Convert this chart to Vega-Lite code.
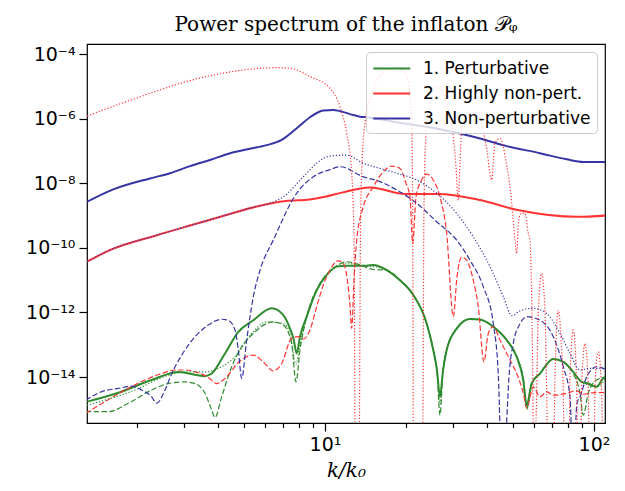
{
"$schema":"https://vega.github.io/schema/vega-lite/v6.json",
"width":518,"height":379,
"autosize":{"type":"none"},
"padding":{"left":87,"top":44,"right":20,"bottom":68},
"title":{"text":"Power spectrum of the inflaton 𝒫ᵩ","font":"DejaVu Serif","fontSize":20,"fontWeight":"normal","color":"black","anchor":"middle","baseline":"alphabetic","offset":17,"dy":24},
"config":{
 "view":{"stroke":"black","strokeWidth":1.2},
 "axis":{"domain":false,"grid":false,"tickColor":"black","tickWidth":1.2,"labelColor":"black","labelFont":"DejaVu Sans","labelFontSize":19,"titleColor":"black","labelFlush":false,"labelOverlap":false},
 "legend":{"orient":"top-right","offset":8,"padding":6,"fillColor":"rgba(255,255,255,0.8)","strokeColor":"#cccccc","cornerRadius":4,"labelFont":"DejaVu Sans","labelFontSize":17,"labelLimit":400,"labelColor":"black","symbolType":"M-1,0H3","symbolSize":342,"symbolStrokeWidth":2,"rowPadding":6,"labelOffset":30}
},
"data":{"values":[
{"m":1,"s":"solid","k":1.306,"p":1.74e-15},{"m":1,"s":"solid","k":1.682,"p":3.16e-15},{"m":1,"s":"solid","k":2.268,"p":8.13e-15},{"m":1,"s":"solid","k":2.849,"p":1.45e-14},{"m":1,"s":"solid","k":3.58,"p":1.07e-14},{"m":1,"s":"solid","k":3.792,"p":1.29e-14},{"m":1,"s":"solid","k":4.249,"p":5.37e-14},{"m":1,"s":"solid","k":4.762,"p":2.51e-13},{"m":1,"s":"solid","k":5.415,"p":5.75e-13},{"m":1,"s":"solid","k":6.338,"p":1.35e-12},{"m":1,"s":"solid","k":6.998,"p":8.32e-13},{"m":1,"s":"solid","k":7.411,"p":3.24e-13},{"m":1,"s":"solid","k":7.636,"p":1.58e-13},{"m":1,"s":"solid","k":7.849,"p":5.37e-14},{"m":1,"s":"solid","k":8.074,"p":1.78e-13},{"m":1,"s":"solid","k":8.551,"p":7.41e-13},{"m":1,"s":"solid","k":9.314,"p":4.9e-12},{"m":1,"s":"solid","k":10.15,"p":1.45e-11},{"m":1,"s":"solid","k":11.05,"p":2.63e-11},{"m":1,"s":"solid","k":12.04,"p":2.82e-11},{"m":1,"s":"solid","k":14.29,"p":2.82e-11},{"m":1,"s":"solid","k":15.12,"p":2.95e-11},{"m":1,"s":"solid","k":16.96,"p":2.04e-11},{"m":1,"s":"solid","k":19.0,"p":1.0e-11},{"m":1,"s":"solid","k":21.3,"p":3.47e-12},{"m":1,"s":"solid","k":23.88,"p":4.57e-13},{"m":1,"s":"solid","k":25.27,"p":6.92e-14},{"m":1,"s":"solid","k":26.09,"p":1.58e-14},{"m":1,"s":"solid","k":26.76,"p":2.45e-15},{"m":1,"s":"solid","k":27.46,"p":1.58e-14},{"m":1,"s":"solid","k":28.34,"p":6.92e-14},{"m":1,"s":"solid","k":30.88,"p":3.16e-13},{"m":1,"s":"solid","k":34.59,"p":6.31e-13},{"m":1,"s":"solid","k":37.69,"p":6.03e-13},{"m":1,"s":"solid","k":42.24,"p":3.63e-13},{"m":1,"s":"solid","k":47.37,"p":1.41e-13},{"m":1,"s":"solid","k":51.6,"p":4.27e-14},{"m":1,"s":"solid","k":54.61,"p":8.13e-15},{"m":1,"s":"solid","k":56.21,"p":1.35e-15},{"m":1,"s":"solid","k":58.67,"p":6.31e-15},{"m":1,"s":"solid","k":63.0,"p":1.29e-14},{"m":1,"s":"solid","k":70.6,"p":3.63e-14},{"m":1,"s":"solid","k":76.91,"p":2.95e-14},{"m":1,"s":"solid","k":83.75,"p":1.45e-14},{"m":1,"s":"solid","k":90.02,"p":7.08e-15},{"m":1,"s":"solid","k":95.24,"p":6.31e-15},{"m":1,"s":"solid","k":102.3,"p":5.01e-15},{"m":1,"s":"solid","k":108.3,"p":9.12e-15},{"m":1,"s":"solid","k":111.5,"p":9.77e-15},
{"m":1,"s":"dashed","k":1.29,"p":8.51e-16},{"m":1,"s":"dashed","k":1.565,"p":8.51e-16},{"m":1,"s":"dashed","k":1.857,"p":1.55e-15},{"m":1,"s":"dashed","k":2.268,"p":3.98e-15},{"m":1,"s":"dashed","k":2.616,"p":6.31e-15},{"m":1,"s":"dashed","k":3.017,"p":7.08e-15},{"m":1,"s":"dashed","k":3.287,"p":6.31e-15},{"m":1,"s":"dashed","k":3.58,"p":3.16e-15},{"m":1,"s":"dashed","k":3.792,"p":9.55e-16},{"m":1,"s":"dashed","k":3.901,"p":5.62e-16},{"m":1,"s":"dashed","k":4.13,"p":2.45e-15},{"m":1,"s":"dashed","k":4.501,"p":2.09e-14},{"m":1,"s":"dashed","k":4.902,"p":8.71e-14},{"m":1,"s":"dashed","k":5.415,"p":2.24e-13},{"m":1,"s":"dashed","k":6.425,"p":5.13e-13},{"m":1,"s":"dashed","k":6.998,"p":4.07e-13},{"m":1,"s":"dashed","k":7.519,"p":1.1e-13},{"m":1,"s":"dashed","k":7.802,"p":7.08e-15},{"m":1,"s":"dashed","k":8.074,"p":6.92e-14},{"m":1,"s":"dashed","k":8.551,"p":7.41e-13},{"m":1,"s":"dashed","k":9.581,"p":7.94e-12},{"m":1,"s":"dashed","k":10.74,"p":2.34e-11},{"m":1,"s":"dashed","k":12.04,"p":3.72e-11},{"m":1,"s":"dashed","k":13.49,"p":2.95e-11},{"m":1,"s":"dashed","k":15.12,"p":2.14e-11},{"m":1,"s":"dashed","k":16.96,"p":2.04e-11},{"m":1,"s":"dashed","k":19.0,"p":1.0e-11},{"m":1,"s":"dashed","k":21.3,"p":3.47e-12},{"m":1,"s":"dashed","k":23.88,"p":4.57e-13},{"m":1,"s":"dashed","k":25.27,"p":6.92e-14},{"m":1,"s":"dashed","k":26.09,"p":1.58e-14},{"m":1,"s":"dashed","k":26.76,"p":6.61e-16},{"m":1,"s":"dashed","k":27.46,"p":1.58e-14},{"m":1,"s":"dashed","k":28.34,"p":6.92e-14},{"m":1,"s":"dashed","k":30.88,"p":3.16e-13},{"m":1,"s":"dashed","k":34.59,"p":6.31e-13},{"m":1,"s":"dashed","k":37.69,"p":6.03e-13},{"m":1,"s":"dashed","k":42.24,"p":3.63e-13},{"m":1,"s":"dashed","k":47.37,"p":1.41e-13},{"m":1,"s":"dashed","k":51.6,"p":4.27e-14},{"m":1,"s":"dashed","k":54.61,"p":8.13e-15},{"m":1,"s":"dashed","k":56.21,"p":1.0e-15},{"m":1,"s":"dashed","k":58.67,"p":6.31e-15},{"m":1,"s":"dashed","k":63.0,"p":1.29e-14},{"m":1,"s":"dashed","k":70.6,"p":3.63e-14},{"m":1,"s":"dashed","k":76.91,"p":2.95e-14},{"m":1,"s":"dashed","k":83.75,"p":1.29e-14},{"m":1,"s":"dashed","k":88.72,"p":3.16e-15},{"m":1,"s":"dashed","k":91.25,"p":6.61e-16},{"m":1,"s":"dashed","k":95.24,"p":3.16e-15},{"m":1,"s":"dashed","k":102.3,"p":8.13e-15},{"m":1,"s":"dashed","k":111.5,"p":1.02e-14},
{"m":1,"s":"dotted","k":1.304,"p":1.35e-15},{"m":1,"s":"dotted","k":1.967,"p":3.98e-15},{"m":1,"s":"dotted","k":2.616,"p":1.15e-14},{"m":1,"s":"dotted","k":3.017,"p":1.45e-14},{"m":1,"s":"dotted","k":3.58,"p":1.45e-14},{"m":1,"s":"dotted","k":4.012,"p":1.86e-14},{"m":1,"s":"dotted","k":4.63,"p":4.27e-14},{"m":1,"s":"dotted","k":5.34,"p":2.24e-13},{"m":1,"s":"dotted","k":6.072,"p":5.13e-13},{"m":1,"s":"dotted","k":6.998,"p":4.57e-13},{"m":1,"s":"dotted","k":7.411,"p":2.24e-13},{"m":1,"s":"dotted","k":7.802,"p":2.51e-14},{"m":1,"s":"dotted","k":8.074,"p":1.0e-13},{"m":1,"s":"dotted","k":8.551,"p":7.41e-13},{"m":1,"s":"dotted","k":9.581,"p":7.08e-12},{"m":1,"s":"dotted","k":10.74,"p":2.24e-11},{"m":1,"s":"dotted","k":12.04,"p":3.39e-11},{"m":1,"s":"dotted","k":13.49,"p":2.82e-11},{"m":1,"s":"dotted","k":15.12,"p":2.63e-11},{"m":1,"s":"dotted","k":16.96,"p":2.04e-11},{"m":1,"s":"dotted","k":19.0,"p":1.0e-11},{"m":1,"s":"dotted","k":21.3,"p":3.47e-12},{"m":1,"s":"dotted","k":23.88,"p":4.57e-13},{"m":1,"s":"dotted","k":25.27,"p":6.92e-14},{"m":1,"s":"dotted","k":26.09,"p":1.58e-14},{"m":1,"s":"dotted","k":26.76,"p":1.5e-15},{"m":1,"s":"dotted","k":27.46,"p":1.58e-14},{"m":1,"s":"dotted","k":28.34,"p":6.92e-14},{"m":1,"s":"dotted","k":30.88,"p":3.16e-13},{"m":1,"s":"dotted","k":34.59,"p":6.31e-13},{"m":1,"s":"dotted","k":37.69,"p":6.03e-13},{"m":1,"s":"dotted","k":42.24,"p":3.63e-13},{"m":1,"s":"dotted","k":47.37,"p":1.41e-13},{"m":1,"s":"dotted","k":51.6,"p":4.27e-14},{"m":1,"s":"dotted","k":54.61,"p":8.13e-15},{"m":1,"s":"dotted","k":56.21,"p":1.2e-15},{"m":1,"s":"dotted","k":58.67,"p":6.31e-15},{"m":1,"s":"dotted","k":63.0,"p":1.29e-14},{"m":1,"s":"dotted","k":70.6,"p":3.63e-14},{"m":1,"s":"dotted","k":76.91,"p":2.95e-14},{"m":1,"s":"dotted","k":83.75,"p":1.45e-14},{"m":1,"s":"dotted","k":90.02,"p":7.08e-15},{"m":1,"s":"dotted","k":102.3,"p":5.01e-15},{"m":1,"s":"dotted","k":111.5,"p":9.77e-15},
{"m":2,"s":"solid","k":1.304,"p":3.72e-11},{"m":2,"s":"solid","k":1.585,"p":8.51e-11},{"m":2,"s":"solid","k":2.39,"p":2.51e-10},{"m":2,"s":"solid","k":3.366,"p":5.75e-10},{"m":2,"s":"solid","k":4.428,"p":1.12e-9},{"m":2,"s":"solid","k":5.627,"p":1.95e-9},{"m":2,"s":"solid","k":7.149,"p":2.82e-9},{"m":2,"s":"solid","k":8.781,"p":3.16e-9},{"m":2,"s":"solid","k":10.0,"p":3.8e-9},{"m":2,"s":"solid","k":11.55,"p":5.13e-9},{"m":2,"s":"solid","k":14.67,"p":7.41e-9},{"m":2,"s":"solid","k":19.97,"p":4.68e-9},{"m":2,"s":"solid","k":26.26,"p":4.68e-9},{"m":2,"s":"solid","k":37.69,"p":3.02e-9},{"m":2,"s":"solid","k":52.1,"p":1.48e-9},{"m":2,"s":"solid","k":87.06,"p":9.12e-10},{"m":2,"s":"solid","k":110.8,"p":1.0e-9},
{"m":2,"s":"dashed","k":1.29,"p":7.59e-16},{"m":2,"s":"dashed","k":1.521,"p":1.74e-15},{"m":2,"s":"dashed","k":1.805,"p":3.98e-15},{"m":2,"s":"dashed","k":2.142,"p":8.13e-15},{"m":2,"s":"dashed","k":2.472,"p":1.29e-14},{"m":2,"s":"dashed","k":2.77,"p":1.66e-14},{"m":2,"s":"dashed","k":3.017,"p":1.66e-14},{"m":2,"s":"dashed","k":3.381,"p":1.35e-14},{"m":2,"s":"dashed","k":3.683,"p":9.77e-15},{"m":2,"s":"dashed","k":3.958,"p":6.31e-15},{"m":2,"s":"dashed","k":4.249,"p":9.12e-15},{"m":2,"s":"dashed","k":4.831,"p":3.16e-14},{"m":2,"s":"dashed","k":5.415,"p":4.79e-14},{"m":2,"s":"dashed","k":5.897,"p":2.95e-14},{"m":2,"s":"dashed","k":6.425,"p":1.55e-14},{"m":2,"s":"dashed","k":6.902,"p":2.63e-14},{"m":2,"s":"dashed","k":7.519,"p":1.58e-13},{"m":2,"s":"dashed","k":7.957,"p":1.78e-13},{"m":2,"s":"dashed","k":8.305,"p":1.51e-13},{"m":2,"s":"dashed","k":8.796,"p":2.88e-13},{"m":2,"s":"dashed","k":9.314,"p":1.51e-12},{"m":2,"s":"dashed","k":9.856,"p":7.08e-12},{"m":2,"s":"dashed","k":10.43,"p":2.04e-11},{"m":2,"s":"dashed","k":11.2,"p":3.98e-11},{"m":2,"s":"dashed","k":11.7,"p":3.31e-11},{"m":2,"s":"dashed","k":12.04,"p":1.41e-11},{"m":2,"s":"dashed","k":12.39,"p":1.58e-12},{"m":2,"s":"dashed","k":12.57,"p":3.24e-13},{"m":2,"s":"dashed","k":12.82,"p":1.0e-11},{"m":2,"s":"dashed","k":13.12,"p":1.74e-10},{"m":2,"s":"dashed","k":13.88,"p":1.86e-9},{"m":2,"s":"dashed","k":15.12,"p":7.76e-9},{"m":2,"s":"dashed","k":16.47,"p":2.29e-8},{"m":2,"s":"dashed","k":17.7,"p":3.39e-8},{"m":2,"s":"dashed","k":19.0,"p":2.88e-8},{"m":2,"s":"dashed","k":20.0,"p":1.0e-8},{"m":2,"s":"dashed","k":20.7,"p":3.8e-9},{"m":2,"s":"dashed","k":21.19,"p":1.38e-10},{"m":2,"s":"dashed","k":21.8,"p":3.8e-9},{"m":2,"s":"dashed","k":22.88,"p":1.26e-8},{"m":2,"s":"dashed","k":23.88,"p":1.91e-8},{"m":2,"s":"dashed","k":25.27,"p":1.26e-8},{"m":2,"s":"dashed","k":26.76,"p":3.8e-9},{"m":2,"s":"dashed","k":28.34,"p":2.82e-10},{"m":2,"s":"dashed","k":29.99,"p":7.41e-13},{"m":2,"s":"dashed","k":30.96,"p":1.26e-11},{"m":2,"s":"dashed","k":32.23,"p":5.25e-11},{"m":2,"s":"dashed","k":33.64,"p":4.17e-11},{"m":2,"s":"dashed","k":35.59,"p":1.0e-11},{"m":2,"s":"dashed","k":37.15,"p":1.51e-12},{"m":2,"s":"dashed","k":39.0,"p":2.95e-14},{"m":2,"s":"dashed","k":40.47,"p":2.24e-13},{"m":2,"s":"dashed","k":42.24,"p":3.63e-13},{"m":2,"s":"dashed","k":44.72,"p":1.41e-13},{"m":2,"s":"dashed","k":48.73,"p":3.39e-14},{"m":2,"s":"dashed","k":51.6,"p":1.29e-14},{"m":2,"s":"dashed","k":54.61,"p":3.16e-15},{"m":2,"s":"dashed","k":56.21,"p":1.12e-15},{"m":2,"s":"dashed","k":59.48,"p":5.01e-15},{"m":2,"s":"dashed","k":63.0,"p":2.45e-15},{"m":2,"s":"dashed","k":66.72,"p":3.55e-15},{"m":2,"s":"dashed","k":70.6,"p":2.75e-15},{"m":2,"s":"dashed","k":79.13,"p":3.16e-15},{"m":2,"s":"dashed","k":86.0,"p":3.8e-15},{"m":2,"s":"dashed","k":91.25,"p":2.95e-15},{"m":2,"s":"dashed","k":100.0,"p":3.3e-15},{"m":2,"s":"dashed","k":108.3,"p":3.31e-15},{"m":2,"s":"dashed","k":111.5,"p":3.16e-15},
{"m":2,"s":"dotted","k":1.306,"p":1.2e-6},{"m":2,"s":"dotted","k":1.682,"p":2.63e-6},{"m":2,"s":"dotted","k":2.235,"p":6.03e-6},{"m":2,"s":"dotted","k":2.974,"p":1.32e-5},{"m":2,"s":"dotted","k":3.958,"p":2.34e-5},{"m":2,"s":"dotted","k":5.263,"p":3.39e-5},{"m":2,"s":"dotted","k":6.614,"p":3.8e-5},{"m":2,"s":"dotted","k":7.411,"p":3.63e-5},{"m":2,"s":"dotted","k":8.796,"p":2.0e-5},{"m":2,"s":"dotted","k":10.43,"p":8.71e-6},{"m":2,"s":"dotted","k":11.37,"p":2.34e-6},{"m":2,"s":"dotted","k":12.04,"p":3.47e-7},{"m":2,"s":"dotted","k":12.57,"p":2.04e-8},{"m":2,"s":"dotted","k":12.82,"p":1.74e-10},{"m":2,"s":"dotted","k":12.98,"p":1e-17},{"m":2,"s":"dotted","k":13.38,"p":1e-17},{"m":2,"s":"dotted","k":13.55,"p":3.16e-10},{"m":2,"s":"dotted","k":13.69,"p":2.04e-8},{"m":2,"s":"dotted","k":14.08,"p":7.08e-7},{"m":2,"s":"dotted","k":15.12,"p":7.76e-6},{"m":2,"s":"dotted","k":16.47,"p":2.82e-5},{"m":2,"s":"dotted","k":18.48,"p":3.63e-5},{"m":2,"s":"dotted","k":20.12,"p":2.0e-5},{"m":2,"s":"dotted","k":21.01,"p":7.08e-7},{"m":2,"s":"dotted","k":21.19,"p":1e-9},{"m":2,"s":"dotted","k":21.33,"p":1e-17},{"m":2,"s":"dotted","k":23.04,"p":1e-17},{"m":2,"s":"dotted","k":23.34,"p":1.86e-9},{"m":2,"s":"dotted","k":23.74,"p":3.16e-7},{"m":2,"s":"dotted","k":24.57,"p":3.16e-6},{"m":2,"s":"dotted","k":25.86,"p":1.0e-5},{"m":2,"s":"dotted","k":27.46,"p":6.31e-6},{"m":2,"s":"dotted","k":29.15,"p":1.0e-6},{"m":2,"s":"dotted","k":29.99,"p":2.69e-7},{"m":2,"s":"dotted","k":30.69,"p":3.16e-8},{"m":2,"s":"dotted","k":31.3,"p":3.02e-9},{"m":2,"s":"dotted","k":31.76,"p":3.98e-8},{"m":2,"s":"dotted","k":32.23,"p":4.47e-7},{"m":2,"s":"dotted","k":33.15,"p":9.12e-7},{"m":2,"s":"dotted","k":35.8,"p":1.58e-6},{"m":2,"s":"dotted","k":37.69,"p":1.0e-6},{"m":2,"s":"dotted","k":38.77,"p":4.47e-7},{"m":2,"s":"dotted","k":40.01,"p":1.0e-7},{"m":2,"s":"dotted","k":41.66,"p":1.26e-8},{"m":2,"s":"dotted","k":42.85,"p":1.78e-7},{"m":2,"s":"dotted","k":44.72,"p":2.45e-7},{"m":2,"s":"dotted","k":47.37,"p":3.55e-8},{"m":2,"s":"dotted","k":49.45,"p":2.51e-9},{"m":2,"s":"dotted","k":50.85,"p":1.74e-10},{"m":2,"s":"dotted","k":51.6,"p":6.9e-11},{"m":2,"s":"dotted","k":52.4,"p":6.3e-10},{"m":2,"s":"dotted","k":53.54,"p":1.17e-9},{"m":2,"s":"dotted","k":55.41,"p":1.17e-9},{"m":2,"s":"dotted","k":56.84,"p":3.16e-10},{"m":2,"s":"dotted","k":57.83,"p":1.6e-10},{"m":2,"s":"dotted","k":58.83,"p":1e-12},{"m":2,"s":"dotted","k":59.84,"p":1e-17},{"m":2,"s":"dotted","k":61.24,"p":3.16e-15},{"m":2,"s":"dotted","k":62.08,"p":1.0e-12},{"m":2,"s":"dotted","k":63.92,"p":1.62e-11},{"m":2,"s":"dotted","k":65.74,"p":1.0e-12},{"m":2,"s":"dotted","k":66.72,"p":3.16e-15},{"m":2,"s":"dotted","k":67.45,"p":1e-17},{"m":2,"s":"dotted","k":70.71,"p":1e-17},{"m":2,"s":"dotted","k":71.61,"p":1.0e-14},{"m":2,"s":"dotted","k":73.67,"p":1.17e-12},{"m":2,"s":"dotted","k":75.4,"p":1.58e-13},{"m":2,"s":"dotted","k":76.91,"p":3.16e-15},{"m":2,"s":"dotted","k":77.7,"p":1e-17},{"m":2,"s":"dotted","k":80.72,"p":1e-17},{"m":2,"s":"dotted","k":81.42,"p":1.0e-14},{"m":2,"s":"dotted","k":83.75,"p":2.88e-13},{"m":2,"s":"dotted","k":86.24,"p":6.31e-15},{"m":2,"s":"dotted","k":87.2,"p":1e-17},{"m":2,"s":"dotted","k":89.09,"p":1e-17},{"m":2,"s":"dotted","k":90.02,"p":5.01e-15},{"m":2,"s":"dotted","k":92.59,"p":1.1e-13},{"m":2,"s":"dotted","k":95.24,"p":5.01e-15},{"m":2,"s":"dotted","k":96.23,"p":1e-17},{"m":2,"s":"dotted","k":100.0,"p":1e-17},{"m":2,"s":"dotted","k":100.9,"p":6.31e-15},{"m":2,"s":"dotted","k":103.7,"p":6.03e-14},{"m":2,"s":"dotted","k":106.6,"p":5.01e-15},{"m":2,"s":"dotted","k":108.3,"p":1e-17},{"m":2,"s":"dotted","k":110.8,"p":1e-17},
{"m":3,"s":"solid","k":1.306,"p":2.69e-9},{"m":3,"s":"solid","k":1.633,"p":6.46e-9},{"m":3,"s":"solid","k":2.235,"p":1.41e-8},{"m":3,"s":"solid","k":2.654,"p":2.04e-8},{"m":3,"s":"solid","k":3.148,"p":3.39e-8},{"m":3,"s":"solid","k":3.737,"p":5.25e-8},{"m":3,"s":"solid","k":4.436,"p":8.51e-8},{"m":3,"s":"solid","k":5.263,"p":1.17e-7},{"m":3,"s":"solid","k":6.072,"p":1.51e-7},{"m":3,"s":"solid","k":6.902,"p":2.19e-7},{"m":3,"s":"solid","k":7.849,"p":5.01e-7},{"m":3,"s":"solid","k":8.796,"p":1.1e-6},{"m":3,"s":"solid","k":9.856,"p":1.78e-6},{"m":3,"s":"solid","k":10.74,"p":1.86e-6},{"m":3,"s":"solid","k":12.39,"p":1.38e-6},{"m":3,"s":"solid","k":13.49,"p":1.15e-6},{"m":3,"s":"solid","k":14.29,"p":1.1e-6},{"m":3,"s":"solid","k":19.0,"p":7.41e-7},{"m":3,"s":"solid","k":26.76,"p":4.68e-7},{"m":3,"s":"solid","k":35.59,"p":2.75e-7},{"m":3,"s":"solid","k":47.37,"p":1.41e-7},{"m":3,"s":"solid","k":63.0,"p":8.51e-8},{"m":3,"s":"solid","k":79.13,"p":5.5e-8},{"m":3,"s":"solid","k":91.25,"p":4.57e-8},{"m":3,"s":"solid","k":111.5,"p":4.57e-8},
{"m":3,"s":"dashed","k":1.29,"p":1.95e-15},{"m":3,"s":"dashed","k":1.479,"p":3.55e-15},{"m":3,"s":"dashed","k":1.705,"p":4.47e-15},{"m":3,"s":"dashed","k":1.911,"p":5.25e-15},{"m":3,"s":"dashed","k":2.083,"p":3.98e-15},{"m":3,"s":"dashed","k":2.268,"p":2.45e-15},{"m":3,"s":"dashed","k":2.367,"p":1.55e-15},{"m":3,"s":"dashed","k":2.543,"p":3.98e-15},{"m":3,"s":"dashed","k":2.693,"p":1.29e-14},{"m":3,"s":"dashed","k":2.934,"p":4.79e-14},{"m":3,"s":"dashed","k":3.287,"p":1.78e-13},{"m":3,"s":"dashed","k":3.683,"p":4.07e-13},{"m":3,"s":"dashed","k":4.13,"p":6.17e-13},{"m":3,"s":"dashed","k":4.371,"p":5.75e-13},{"m":3,"s":"dashed","k":4.63,"p":2.88e-13},{"m":3,"s":"dashed","k":4.762,"p":6.92e-14},{"m":3,"s":"dashed","k":4.902,"p":9.12e-15},{"m":3,"s":"dashed","k":5.116,"p":1.41e-13},{"m":3,"s":"dashed","k":5.415,"p":3.09e-12},{"m":3,"s":"dashed","k":5.734,"p":2.04e-11},{"m":3,"s":"dashed","k":6.425,"p":1.74e-10},{"m":3,"s":"dashed","k":7.849,"p":4.9e-9},{"m":3,"s":"dashed","k":9.048,"p":1.58e-8},{"m":3,"s":"dashed","k":10.43,"p":2.63e-8},{"m":3,"s":"dashed","k":11.37,"p":3.24e-8},{"m":3,"s":"dashed","k":13.88,"p":1.58e-8},{"m":3,"s":"dashed","k":16.02,"p":1.12e-8},{"m":3,"s":"dashed","k":18.48,"p":6.17e-9},{"m":3,"s":"dashed","k":21.93,"p":2.4e-9},{"m":3,"s":"dashed","k":26.02,"p":6.46e-10},{"m":3,"s":"dashed","k":30.88,"p":1.74e-10},{"m":3,"s":"dashed","k":34.59,"p":4.17e-11},{"m":3,"s":"dashed","k":38.77,"p":6.31e-12},{"m":3,"s":"dashed","k":42.24,"p":4.57e-13},{"m":3,"s":"dashed","k":44.07,"p":1.29e-14},{"m":3,"s":"dashed","k":45.5,"p":1e-17},{"m":3,"s":"dashed","k":47.37,"p":4.68e-16},{"m":3,"s":"dashed","k":48.31,"p":1.0e-14},{"m":3,"s":"dashed","k":50.12,"p":1.1e-13},{"m":3,"s":"dashed","k":53.08,"p":4.47e-13},{"m":3,"s":"dashed","k":56.21,"p":7.41e-13},{"m":3,"s":"dashed","k":63.0,"p":5.75e-13},{"m":3,"s":"dashed","k":70.6,"p":1.78e-13},{"m":3,"s":"dashed","k":76.91,"p":2.09e-14},{"m":3,"s":"dashed","k":81.42,"p":2.45e-15},{"m":3,"s":"dashed","k":83.75,"p":1e-17},{"m":3,"s":"dashed","k":86.46,"p":1.58e-15},{"m":3,"s":"dashed","k":88.72,"p":2.45e-15},{"m":3,"s":"dashed","k":93.96,"p":1.02e-14},{"m":3,"s":"dashed","k":102.3,"p":2.09e-14},{"m":3,"s":"dashed","k":111.5,"p":1.66e-14},
{"m":3,"s":"dotted","k":1.304,"p":3.72e-11},{"m":3,"s":"dotted","k":1.585,"p":8.51e-11},{"m":3,"s":"dotted","k":2.39,"p":2.51e-10},{"m":3,"s":"dotted","k":3.366,"p":5.75e-10},{"m":3,"s":"dotted","k":4.428,"p":1.12e-9},{"m":3,"s":"dotted","k":5.627,"p":1.95e-9},{"m":3,"s":"dotted","k":5.897,"p":2.14e-9},{"m":3,"s":"dotted","k":6.998,"p":3.8e-9},{"m":3,"s":"dotted","k":8.305,"p":1.58e-8},{"m":3,"s":"dotted","k":9.314,"p":4.17e-8},{"m":3,"s":"dotted","k":10.43,"p":6.92e-8},{"m":3,"s":"dotted","k":12.04,"p":7.41e-8},{"m":3,"s":"dotted","k":13.88,"p":4.17e-8},{"m":3,"s":"dotted","k":16.02,"p":2.88e-8},{"m":3,"s":"dotted","k":18.48,"p":2.04e-8},{"m":3,"s":"dotted","k":21.93,"p":1.26e-8},{"m":3,"s":"dotted","k":26.02,"p":4.9e-9},{"m":3,"s":"dotted","k":30.88,"p":1.17e-9},{"m":3,"s":"dotted","k":35.59,"p":2.19e-10},{"m":3,"s":"dotted","k":41.06,"p":2.63e-11},{"m":3,"s":"dotted","k":46.01,"p":3.09e-12},{"m":3,"s":"dotted","k":49.57,"p":7.94e-13},{"m":3,"s":"dotted","k":53.08,"p":1.12e-12},{"m":3,"s":"dotted","k":59.48,"p":1.35e-12},{"m":3,"s":"dotted","k":66.72,"p":9.33e-13},{"m":3,"s":"dotted","k":74.75,"p":2.24e-13},{"m":3,"s":"dotted","k":81.42,"p":5.37e-14},{"m":3,"s":"dotted","k":88.72,"p":1.66e-14},{"m":3,"s":"dotted","k":96.63,"p":1.86e-14},{"m":3,"s":"dotted","k":111.5,"p":1.86e-14}
]},
"encoding":{
 "y":{"field":"p","type":"quantitative","scale":{"type":"log","domain":[3.8e-16,2.04e-4],"nice":false},
  "axis":{"values":[1e-14,1e-12,1e-10,1e-8,1e-6,1e-4],"labelExpr":"datum.value < 1e-13 ? '10⁻¹⁴' : datum.value < 1e-11 ? '10⁻¹²' : datum.value < 1e-9 ? '10⁻¹⁰' : datum.value < 1e-7 ? '10⁻⁸' : datum.value < 1e-5 ? '10⁻⁶' : '10⁻⁴'","tickSize":8,"labelPadding":4,"title":null}},
 "color":{"field":"m","type":"nominal","scale":{"domain":[1,2,3],"range":["#2e8b2e","#ff3333","#3535a5"]},
  "legend":{"title":null,"labelExpr":"datum.label == '1' ? '1. Perturbative' : datum.label == '2' ? '2. Highly non-pert.' : '3. Non-perturbative'"}}
},
"layer":[
 {"transform":[{"filter":"datum.s == 'solid'"}],
  "mark":{"type":"line","strokeWidth":2,"clip":true,"interpolate":"monotone"},
  "encoding":{"x":{"field":"k","type":"quantitative","scale":{"type":"log","domain":[1.304,109.9],"nice":false},
   "axis":{"orient":"bottom","values":[10,100],"labelExpr":"datum.value < 50 ? '10¹' : '10²'","tickSize":8,"labelPadding":4,"title":"k/k₀","titleFont":"DejaVu Serif","titleFontStyle":"italic","titleFontSize":20,"titleFontWeight":"normal","titlePadding":6}}}},
 {"transform":[{"filter":"datum.s == 'dashed'"}],
  "mark":{"type":"line","strokeWidth":1.2,"strokeDash":[5.5,2.4],"clip":true,"interpolate":"monotone"},
  "encoding":{"x":{"field":"k","type":"quantitative","scale":{"type":"log","domain":[1.304,109.9],"nice":false},
   "axis":{"orient":"bottom","values":[2,3,4,5,6,7,8,9,20,30,40,50,60,70,80,90],"labels":false,"tickSize":4.5,"title":null}}}},
 {"transform":[{"filter":"datum.s == 'dotted'"}],
  "mark":{"type":"line","strokeWidth":1.2,"strokeDash":[1.2,1.9],"clip":true,"interpolate":"monotone"},
  "encoding":{"x":{"field":"k","type":"quantitative","scale":{"type":"log","domain":[1.304,109.9],"nice":false},"axis":null}}}
],
"resolve":{"axis":{"x":"independent"}}
}
